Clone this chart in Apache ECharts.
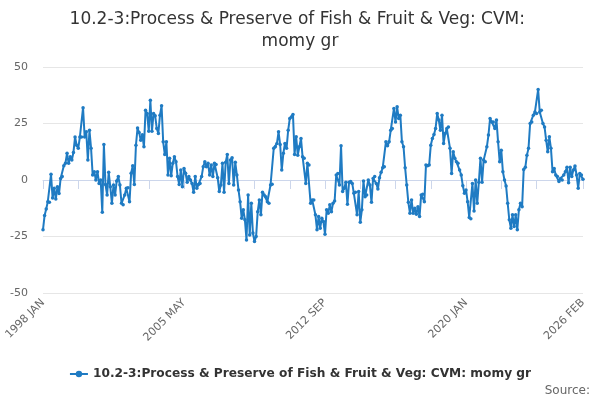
<!DOCTYPE html>
<html>
<head>
<meta charset="utf-8">
<script src="https://cdn.jsdelivr.net/npm/echarts@6/dist/echarts.min.js"></script>
<style>html,body{margin:0;padding:0;background:#fff}#c{width:600px;height:400px}</style>
</head>
<body>
<div id="c"></div>
<script>
var titleText = '10.2-3:Process & Preserve of Fish & Fruit & Veg: CVM: momy gr';
var seriesName = '10.2-3:Process & Preserve of Fish & Fruit & Veg: CVM: momy gr';
var monthNames = ['JAN','FEB','MAR','APR','MAY','JUN','JUL','AUG','SEP','OCT','NOV','DEC'];
var startYear = 1998, endYear = 2026, endMonth = 2;
var tickLabels = ['1998 JAN','2005 MAY','2012 SEP','2020 JAN','2026 FEB'];
var yTicks = [-50, -25, 0, 25, 50];

var valuesA = [-22,-15.7,-12.8,-9.6,-9.9,2.5,-8,-3.7,-8.4,-3,-6,0.7,1.5,6.3,7.4,11.8,7.4,10.3,8.8,12.2,19,15.4,14,19,19,32,19,21.3,8.8,22,14,2.2,3.7,0,3.7,-1.5,0,-14.3,15.7,-2,-6.6,3.4,-3,-10.3,-2.2,-6.6,-0.4,1.5,-2.2,-10.3,-11,-6.6,-3.7,-3.4,-9.6,3,6.3];
var valuesB = [-2,15.4,23,21,17.6,20,14.7,30.9,29.4,21.6,35.3,21.6,29.4,28.4,22.8,20.6,28.7,32.8,16.9,11.3,16.9,2.2,9.6,1.9,7.4,10.3,8.1,1.5,-2,4.4,-3,5.1,3,-1,1.5,0,-1.5,-5.4,1.5,-3.7,-2,-1.5,1.5,5.9,8.1,5.9,7.4,2.2,6.6,1.5,7.4,6.9,1,-5.1,-2.2,7.4];
var valuesC = [-5.4,7.8,11.3,-1.5,8.8,9.9,-2.2,7.8,2.2,-4.4,-9.6,-16.9,-13.2,-17.6,-26.5,-6.6,-24.3,-10.3,-23.5,-27.2,-25,-14,-8.8,-15.4,-5.4,-6.6,-7.4,-9.6,-10.3,-2.2,-1.9,14,14.7,16.2,21.3,15.7,4.4,11.8,16.2,14,22,27.2,27.9,29,11.3,19.1,11,14.7,18.4,10.3,9.6,-1.5,7.4,6.6,-10.3,-8.8];
var valuesD = [-8.8,-15.4,-22,-16.2,-21.3,-16.9,-18.4,-24,-13.2,-14.7,-11,-14,-10.3,-9.3,2.2,2.9,-2.2,15.1,-5.1,-3.7,-1,-10.7,-1,-0.7,-1.5,-5.9,-5.4,-15.4,-5.1,-18.7,-13.2,-0.4,-7.4,-6.6,0,-2.2,-9.9,0.7,1.5,-1.5,-4,1,3.4,5.4,5.9,16.9,15.1,16.9,22,22.8,31.6,25.7,32.4,27.2,28.7,16.9];
var valuesE = [14.7,5.4,-2.2,-9.9,-14.7,-8.8,-14.7,-12.5,-15.1,-11.8,-16.2,-6.6,-6.3,-9.6,6.6,6.3,6.6,15.4,18.4,20.1,22.8,29.4,26.5,22,28.7,16.2,20.6,22.8,23.5,14,2.9,12.5,9.6,8.1,7.4,4.4,2.2,-2.5,-5.9,-4.4,-9.6,-16.6,-17.2,-1.5,-13.7,0,-10.3,-1,9.6,-1,8.8,8.1,14.7,19.9,27.2,25.7];
var valuesF = [25.7,22.8,26.5,16.9,8.1,13.2,3.7,0,-2.6,-10.3,-17.6,-21.3,-15.4,-20.6,-15.4,-22,-13.2,-10.3,-11.8,4.7,5.6,11,14,25,25.7,28.7,30.1,29.4,40,30.1,30.9,25,23.5,17.6,12.5,19.1,14,3.7,5.1,2.2,1.5,-0.7,0.7,0,2.2,3.7,5.6,-1.2,5.6,1.5,4.4,6.2,2.2,-3.7,2.9,2.2,0.3];

var categories = [];
for (var y = startYear; y <= endYear; y++) {
  for (var m = 0; m < 12; m++) {
    if (y === endYear && m >= endMonth) break;
    categories.push(y + ' ' + monthNames[m]);
  }
}
var values = valuesA.concat(valuesB, valuesC, valuesD, valuesE, valuesF);
var lastIdx = categories.length - 1;
var firstIdx = categories.indexOf(tickLabels[0]);
var tickStep = (categories.indexOf(tickLabels[1]) - firstIdx) / 4;

var chart = echarts.init(document.getElementById('c'), null, {renderer: 'canvas'});
chart.setOption({
  animation: false,
  backgroundColor: '#ffffff',
  textStyle: {fontFamily: 'DejaVu Sans'},
  title: {
    text: titleText,
    left: 'center',
    top: 4,
    textStyle: {fontSize: 17, fontWeight: 'normal', color: '#333333', width: 490, overflow: 'break', lineHeight: 22, fontFamily: 'DejaVu Sans'}
  },
  legend: {
    bottom: 15,
    left: 'center',
    itemWidth: 18,
    itemHeight: 8,
    itemGap: 10,
    textStyle: {fontSize: 12.2, fontWeight: 'bold', color: '#333333', fontFamily: 'DejaVu Sans'},
    data: [seriesName]
  },
  graphic: [{
    type: 'text', right: 10, bottom: 3,
    style: {text: 'Source:', fontSize: 12, fill: '#666666', fontFamily: 'DejaVu Sans'}
  }],
  grid: {left: 43, right: 17, top: 67, bottom: 107, containLabel: false},
  xAxis: {
    type: 'category',
    data: categories,
    boundaryGap: false,
    axisLine: {lineStyle: {color: '#ccd6eb'}},
    axisTick: {
      length: 9,
      lineStyle: {color: '#ccd6eb'},
      interval: function (i) { return ((i - firstIdx) % tickStep === 0 && i <= lastIdx - 2 * tickStep + 15) || i === lastIdx; }
    },
    axisLabel: {
      rotate: 45,
      color: '#666666',
      fontSize: 11,
      margin: 8,
      interval: function (i, v) { return tickLabels.indexOf(v) >= 0; }
    },
    splitLine: {show: false}
  },
  yAxis: {
    type: 'value',
    min: yTicks[0],
    max: yTicks[yTicks.length - 1],
    interval: 25,
    axisLine: {show: false},
    axisTick: {show: false},
    axisLabel: {color: '#666666', fontSize: 11, margin: 15},
    splitLine: {lineStyle: {color: '#e6e6e6'}}
  },
  series: [{
    name: seriesName,
    type: 'line',
    data: values,
    symbol: 'circle',
    symbolSize: 3.5,
    showSymbol: true,
    showAllSymbol: true,
    itemStyle: {color: '#1f7bc3'},
    lineStyle: {width: 2, color: '#1f7bc3'}
  }]
});
</script>
</body>
</html>
